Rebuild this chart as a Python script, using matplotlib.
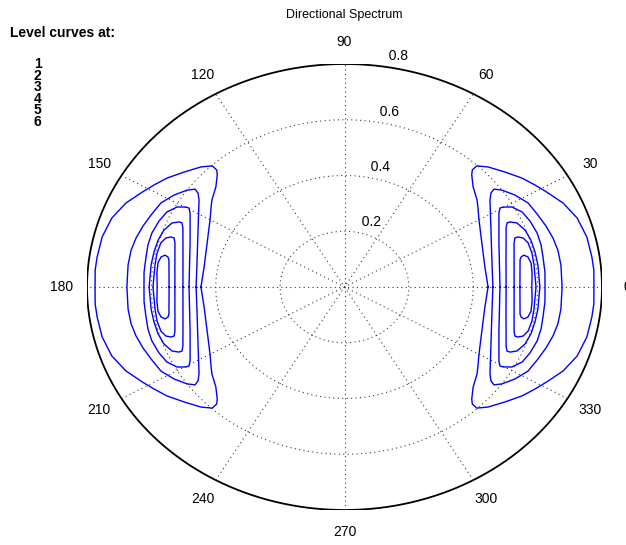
import numpy as np
import matplotlib.pyplot as plt

plt.rcParams['font.family'] = ['Liberation Sans', 'DejaVu Sans']

# level values listed in the legend
levels = [1, 2, 3, 4, 5, 6]

# upper half of the eastern lobe for each level: direction (deg) and radius
dir_1 = [0.0, 9.3, 20.3, 29.9, 34.7, 37.2, 41.9, 45.5, 46.6, 46.6, 44.0, 39.6, 35.3, 31.7, 28.4, 23.9, 18.9, 13.4, 8.0, 4.5, 0.0]
rad_1 = [0.446, 0.442, 0.455, 0.482, 0.504, 0.517, 0.537, 0.564, 0.578, 0.598, 0.620, 0.647, 0.676, 0.696, 0.715, 0.743, 0.764, 0.774, 0.776, 0.777, 0.775]

dir_2 = [0.0, 11.9, 25.3, 34.6, 36.5, 37.1, 35.4, 31.9, 27.9, 23.3, 19.3, 15.2, 11.3, 6.7, 0.0]
rad_2 = [0.461, 0.468, 0.503, 0.549, 0.566, 0.582, 0.600, 0.624, 0.645, 0.654, 0.663, 0.671, 0.676, 0.677, 0.676]

dir_3 = [0.0, 18.2, 28.9, 30.4, 30.2, 28.9, 26.0, 22.3, 17.9, 13.9, 9.9, 4.9, 0.0]
rad_3 = [0.483, 0.505, 0.548, 0.560, 0.570, 0.594, 0.614, 0.623, 0.629, 0.629, 0.626, 0.625, 0.623]

dir_4 = [0.0, 10.9, 22.9, 24.5, 24.4, 23.2, 20.0, 16.2, 12.0, 7.5, 0.0]
rad_4 = [0.502, 0.511, 0.545, 0.555, 0.565, 0.583, 0.597, 0.603, 0.605, 0.606, 0.607]

dir_5 = [0.0, 16.7, 18.4, 18.4, 17.6, 15.5, 11.8, 7.6, 0.0]
rad_5 = [0.527, 0.550, 0.558, 0.568, 0.582, 0.592, 0.595, 0.594, 0.595]

dir_6 = [0.0, 10.1, 11.1, 11.6, 10.7, 8.5, 4.9, 0.0]
rad_6 = [0.545, 0.554, 0.559, 0.569, 0.580, 0.586, 0.585, 0.582]

lobe_dirs = [dir_1, dir_2, dir_3, dir_4, dir_5, dir_6]
lobe_rads = [rad_1, rad_2, rad_3, rad_4, rad_5, rad_6]

rmax = 0.8
rticks = [0.2, 0.4, 0.6, 0.8]

fig = plt.figure(figsize=(6.26, 5.45), dpi=100)
ax = fig.add_axes([87 / 626, 35 / 545, 515 / 626, 446 / 545])
ax.set_xlim(-rmax, rmax)
ax.set_ylim(-rmax, rmax)
ax.axis('off')

dot = (0, (1, 3))
grid_col = '#3c3c3c'

# range rings
t = np.linspace(0, 2 * np.pi, 400)
for r in rticks[:-1]:
    ax.plot(r * np.cos(t), r * np.sin(t), color=grid_col, lw=0.8, ls=dot)
ax.plot(rmax * np.cos(t), rmax * np.sin(t), color='black', lw=1.3)

# spokes every 30 degrees
for a in np.deg2rad(np.arange(30, 181, 30)):
    ax.plot([-rmax * np.cos(a), rmax * np.cos(a)],
            [-rmax * np.sin(a), rmax * np.sin(a)],
            color=grid_col, lw=0.8, ls=dot)

# radius labels along 82 degrees
c82, s82 = np.cos(np.deg2rad(82)), np.sin(np.deg2rad(82))
for r in rticks:
    ax.text((r + 0.01) * c82, (r + 0.01) * s82, '  %g' % r,
            ha='left', va='bottom', fontsize=10)

# direction labels
rt = 1.1 * rmax
for deg in range(0, 360, 30):
    a = np.deg2rad(deg)
    ax.text(rt * np.cos(a), rt * np.sin(a), str(deg),
            ha='center', va='center', fontsize=10, clip_on=False)

# level curves, mirrored to the lower half and to the western lobe
for d, rr in zip(lobe_dirs, lobe_rads):
    d = np.asarray(d, dtype=float)
    rr = np.asarray(rr, dtype=float)
    full_d = np.concatenate([d, -d[::-1][1:]])
    full_r = np.concatenate([rr, rr[::-1][1:]])
    for th in (full_d, 180 - full_d):
        a = np.deg2rad(th)
        ax.plot(full_r * np.cos(a), full_r * np.sin(a), color='#0000ff',
                lw=1.0, solid_joinstyle='round')

fig.text(344 / 626, 1 - 15 / 545, 'Directional Spectrum', ha='center', va='center', fontsize=9)
fig.text(10 / 626, 1 - 33 / 545, 'Level curves at:', ha='left', va='center',
         fontsize=10, fontweight='bold')
fig.text(34 / 626, 1 - 57 / 545, '\n'.join(str(v) for v in levels),
         ha='left', va='top', fontsize=10, fontweight='bold', linespacing=0.78)

fig.savefig('out.png', dpi=100)
